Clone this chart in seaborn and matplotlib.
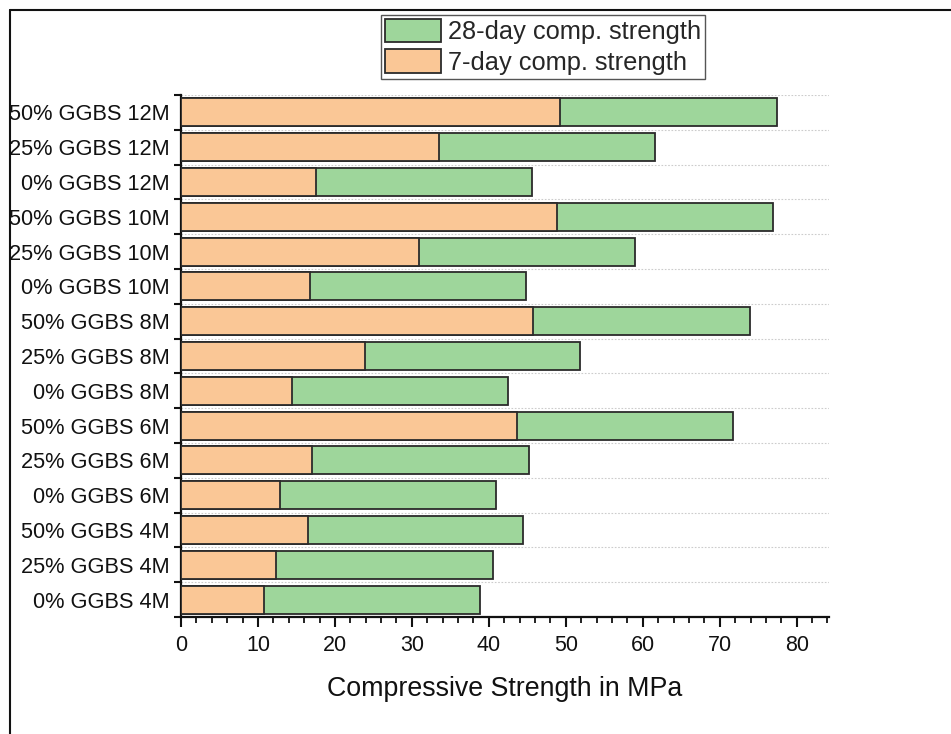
import matplotlib
matplotlib.use("Agg")
import matplotlib.pyplot as plt
import seaborn as sns
import pandas as pd
from matplotlib.patches import Patch, Rectangle
from matplotlib.ticker import MultipleLocator, FixedLocator

# ---- data (top to bottom as shown) ----
categories = ["50% GGBS 12M", "25% GGBS 12M", "0% GGBS 12M",
              "50% GGBS 10M", "25% GGBS 10M", "0% GGBS 10M",
              "50% GGBS 8M", "25% GGBS 8M", "0% GGBS 8M",
              "50% GGBS 6M", "25% GGBS 6M", "0% GGBS 6M",
              "50% GGBS 4M", "25% GGBS 4M", "0% GGBS 4M"]
strength_7day = [49.2, 33.5, 17.5, 48.8, 30.9, 16.8, 45.8, 23.9, 14.4,
                 43.6, 17.0, 12.9, 16.5, 12.3, 10.8]
strength_28day_end = [77.4, 61.6, 45.6, 76.9, 59.0, 44.8, 73.9, 51.9, 42.5,
                      71.7, 45.2, 40.9, 44.5, 40.5, 38.8]
legend_labels = ["28-day comp. strength", "7-day comp. strength"]
x_label = "Compressive Strength in MPa"

green = "#9ED69B"
orange = "#FAC796"
edge = "#2b2b2b"

sns.set_style("white")
plt.rcParams["font.family"] = ["Liberation Sans", "DejaVu Sans"]

df = pd.DataFrame({"cat": categories, "d7": strength_7day, "d28": strength_28day_end})

fig = plt.figure(figsize=(9.51, 7.34), dpi=100)
ax = fig.add_axes([181/951, 117/734, (829-181)/951, (639-117)/734])

sns.barplot(data=df, x="d28", y="cat", order=categories, color=green, saturation=1,
            edgecolor=edge, linewidth=1.3, width=0.8, ax=ax, zorder=3)
sns.barplot(data=df, x="d7", y="cat", order=categories, color=orange, saturation=1,
            edgecolor=edge, linewidth=1.3, width=0.8, ax=ax, zorder=4)

n = len(categories)
ax.set_ylim(n - 0.5, -0.5)
ax.set_xlim(0, 84.2)

ax.xaxis.set_major_locator(MultipleLocator(10))
ax.xaxis.set_minor_locator(MultipleLocator(2))
ax.set_yticks(range(n))
ax.set_yticklabels(categories)
ax.yaxis.set_minor_locator(FixedLocator([k + 0.5 for k in range(-1, n)]))

ax.tick_params(axis="y", which="major", length=0, labelsize=15.7, pad=8, labelcolor="#111111")
ax.tick_params(axis="y", which="minor", length=5, width=1.5, direction="out", color="#111111", left=True)
ax.tick_params(axis="x", which="major", length=7, width=1.5, direction="out", labelsize=15.5,
               pad=6, bottom=True, color="#111111", labelcolor="#111111")
ax.tick_params(axis="x", which="minor", length=4, width=1.3, direction="out", bottom=True, color="#111111")

ax.grid(False)
ax.yaxis.grid(True, which="minor", linestyle=(0, (1.5, 1.5)), color="#cccccc", linewidth=0.8, zorder=0)
ax.set_axisbelow(True)

for s in ["top", "right"]:
    ax.spines[s].set_visible(False)
for s in ["left", "bottom"]:
    ax.spines[s].set_linewidth(1.6)
    ax.spines[s].set_color("#111111")

ax.set_ylabel("")
ax.set_xlabel(x_label, fontsize=19.3, labelpad=14, color="#111111")

handles = [Patch(facecolor=green, edgecolor=edge, linewidth=1.3),
           Patch(facecolor=orange, edgecolor=edge, linewidth=1.3)]
leg = fig.legend(handles, legend_labels, loc="upper left",
                 bbox_to_anchor=(381/951, 1 - 15/734), fontsize=18.3,
                 handlelength=2.2, handleheight=1.05, labelspacing=0.2,
                 borderpad=0.15, handletextpad=0.3, borderaxespad=0,
                 fancybox=False, framealpha=1, edgecolor="#555555")
leg.get_frame().set_linewidth(1.0)

# outer frame (cropped screenshot border)
fig.patches.append(Rectangle((0, 0), 9/951, 1, transform=fig.transFigure,
                             facecolor="white", edgecolor="none", zorder=10))
fig.lines.append(plt.Line2D([9.5/951, 9.5/951], [0, 1 - 9.5/734], transform=fig.transFigure,
                            color="#111111", linewidth=1.5, zorder=11))
fig.lines.append(plt.Line2D([9.5/951, 1], [1 - 9.5/734, 1 - 9.5/734], transform=fig.transFigure,
                            color="#111111", linewidth=1.5, zorder=11))

fig.savefig("out.png", dpi=100)
